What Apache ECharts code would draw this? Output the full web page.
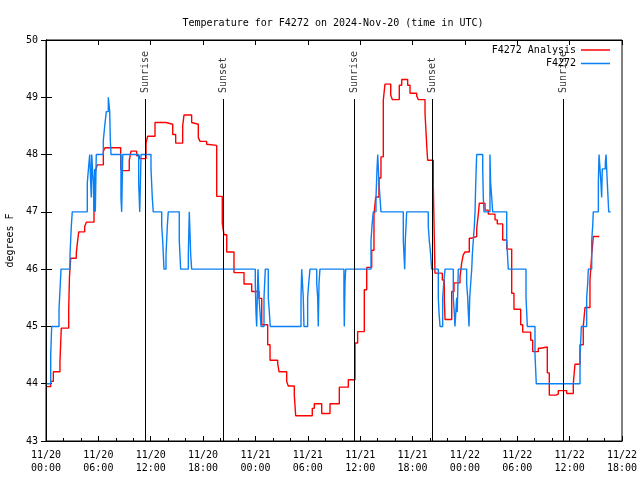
<!DOCTYPE html>
<html><head><meta charset="utf-8">
<script src="https://cdn.jsdelivr.net/npm/echarts@6/dist/echarts.min.js"></script>
<style>html,body{margin:0;padding:0;background:#fff}#c{width:640px;height:480px}</style>
</head><body><div id="c"></div>
<script>
const xTickLabels = ['11/20\n00:00','11/20\n06:00','11/20\n12:00','11/20\n18:00','11/21\n00:00','11/21\n06:00','11/21\n12:00','11/21\n18:00','11/22\n00:00','11/22\n06:00','11/22\n12:00','11/22\n18:00'];
// [hours since 2024-11-20 00:00 UTC, degrees F]
const analysisSeries = [[0.08,43.95],[0.54,44.04],[0.84,44.21],[1.60,44.38],[1.75,44.97],[2.60,45.29],[2.69,45.87],[2.83,46.19],[3.47,46.28],[3.59,46.45],[3.75,46.65],[4.43,46.74],[4.62,46.82],[5.50,47.56],[5.69,47.73],[5.88,47.82],[6.57,48.06],[6.76,48.12],[8.56,47.76],[8.67,47.72],[9.54,47.90],[9.74,48.06],[10.39,47.98],[10.69,47.93],[11.46,48.20],[11.65,48.32],[12.49,48.56],[13.75,48.53],[14.52,48.35],[14.86,48.20],[15.66,48.50],[15.81,48.69],[16.69,48.56],[16.88,48.53],[17.45,48.30],[17.65,48.23],[18.41,48.18],[18.60,48.16],[19.56,47.27],[20.20,46.80],[20.40,46.60],[20.71,46.30],[21.54,45.94],[22.69,45.74],[23.57,45.61],[24.41,45.49],[24.72,45.03],[25.40,44.68],[25.67,44.41],[26.55,44.35],[26.70,44.21],[27.58,44.04],[27.76,43.96],[28.45,43.80],[28.61,43.44],[30.51,43.57],[30.74,43.65],[31.59,43.48],[32.54,43.65],[33.61,43.94],[34.64,44.07],[35.41,44.71],[35.71,44.91],[36.47,45.64],[36.75,46.03],[37.32,46.33],[37.58,46.95],[37.78,47.26],[38.15,47.59],[38.38,47.96],[38.65,48.95],[38.84,49.23],[39.50,49.04],[39.68,48.96],[40.48,49.21],[40.76,49.31],[41.44,49.21],[41.71,49.07],[42.48,49.02],[42.66,48.96],[43.43,48.72],[43.62,48.17],[43.73,47.90],[44.38,47.44],[44.57,45.93],[45.41,45.81],[45.64,45.46],[45.72,45.12],[46.49,45.61],[46.75,45.76],[47.44,45.87],[47.63,46.11],[47.81,46.25],[48.01,46.30],[48.50,46.54],[48.78,46.57],[49.35,46.71],[49.53,46.95],[49.65,47.15],[50.30,47.03],[50.68,46.96],[51.45,46.86],[51.71,46.79],[52.33,46.51],[52.79,46.35],[53.36,45.58],[53.62,45.30],[54.39,45.03],[54.62,44.90],[55.54,44.76],[55.77,44.56],[56.41,44.62],[56.68,44.64],[57.44,44.19],[57.67,43.80],[58.44,43.82],[58.70,43.88],[59.66,43.83],[60.42,44.00],[60.61,44.34],[61.19,44.68],[61.56,45.00],[61.76,45.33],[62.33,45.81],[62.53,46.25],[62.71,46.57],[63.40,46.57]];
const stationSeries = [[0.08,44.0],[0.54,44.5],[0.65,45.0],[1.49,45.3],[1.64,45.75],[1.72,46.0],[2.75,46.25],[2.90,46.75],[3.01,47.0],[4.73,47.5],[4.89,47.8],[5.01,48.0],[5.12,47.5],[5.19,47.25],[5.24,48.0],[5.42,47.5],[5.50,47.0],[5.58,47.75],[5.65,47.0],[5.76,48.0],[6.57,48.25],[6.73,48.5],[6.91,48.75],[7.14,49.0],[7.30,48.75],[7.37,48.25],[7.45,48.0],[8.59,47.25],[8.67,47.0],[8.79,48.0],[10.62,47.5],[10.74,47.0],[10.89,48.0],[12.03,47.75],[12.18,47.25],[12.29,47.0],[13.26,46.75],[13.37,46.5],[13.52,46.0],[13.75,46.25],[13.90,46.75],[14.01,47.0],[15.27,46.5],[15.43,46.0],[16.31,46.25],[16.42,47.0],[16.58,46.25],[16.69,46.0],[23.98,45.75],[24.06,45.25],[24.14,45.0],[24.21,45.5],[24.29,46.0],[24.41,45.5],[24.52,45.25],[24.64,45.0],[24.98,45.5],[25.13,46.0],[25.47,45.5],[25.59,45.25],[25.70,45.0],[29.22,45.5],[29.30,46.0],[29.48,45.5],[29.56,45.0],[29.98,45.5],[30.10,45.75],[30.25,46.0],[31.02,45.75],[31.13,45.5],[31.20,45.0],[31.28,45.75],[31.39,46.0],[34.14,45.5],[34.18,45.0],[34.26,45.75],[34.34,46.0],[37.24,46.5],[37.35,46.75],[37.50,47.0],[37.81,47.25],[37.93,47.75],[38.01,48.0],[38.16,47.5],[38.27,47.25],[38.38,47.0],[40.94,46.5],[41.10,46.0],[41.17,46.5],[41.33,47.0],[43.80,46.75],[43.92,46.5],[44.08,46.25],[44.19,46.0],[44.95,45.5],[45.03,45.25],[45.15,45.0],[45.45,45.5],[45.57,45.75],[45.72,46.0],[46.67,45.5],[46.78,45.25],[46.86,45.0],[47.06,45.5],[47.12,45.25],[47.24,46.0],[48.20,45.75],[48.32,45.5],[48.39,45.25],[48.47,45.0],[48.55,45.5],[48.66,45.75],[48.78,46.0],[48.85,46.25],[48.96,46.5],[49.08,46.75],[49.16,47.0],[49.24,47.5],[49.35,48.0],[50.04,47.75],[50.11,47.25],[50.19,47.0],[50.87,48.0],[50.95,47.5],[51.07,47.25],[51.18,47.0],[52.79,46.5],[52.97,46.0],[55.00,45.5],[55.08,45.25],[55.15,45.0],[56.03,44.5],[56.18,44.0],[61.19,44.5],[61.27,44.75],[61.34,45.0],[61.95,45.5],[62.07,45.75],[62.14,46.0],[62.53,46.5],[62.64,46.75],[62.71,47.0],[63.29,47.5],[63.37,48.0],[63.59,47.5],[63.67,47.25],[63.74,47.75],[63.86,47.75],[64.09,47.85],[64.17,48.0],[64.32,47.5],[64.40,47.25],[64.48,47.0],[64.71,47.0]];
const sunHours = [11.42, 20.32, 35.33, 44.27, 59.28];
const sunLabels = ['Sunrise','Sunset','Sunrise','Sunset','Sunrise'];
const seriesNames = ['F4272 Analysis','F4272'];

const FONT = 'DejaVu Sans Mono';
const LINE_TOP = 48.97;
const chart = echarts.init(document.getElementById('c'), null, {renderer:'canvas'});
const axisCommon = {
  min:0, max:66, interval:6, type:'value',
  axisLine:{show:true, lineStyle:{color:'#000', width:1}},
  splitLine:{show:false}
};
chart.setOption({
  animation:false,
  backgroundColor:'#fff',
  title:{text:'Temperature for F4272 on 2024-Nov-20 (time in UTC)', left:328, top:13, textAlign:'center',
    textStyle:{fontFamily:FONT, fontSize:10, fontWeight:'normal', color:'#000'}},
  legend:{data:seriesNames, orient:'vertical', right:25, top:39, align:'right', icon:'rect',
    itemWidth:29, itemHeight:1.5, itemGap:1.5,
    textStyle:{fontFamily:FONT, fontSize:10, color:'#000', lineHeight:12}},
  grid:{left:46, right:18, top:40, bottom:39, show:true, borderColor:'#000', borderWidth:1,
    containLabel:false, outerBoundsMode:'none'},
  xAxis:[
    Object.assign({}, axisCommon, {position:'bottom',
      axisTick:{show:true, inside:true, length:5, lineStyle:{color:'#000'}},
      minorTick:{show:true, splitNumber:3, length:3, lineStyle:{color:'#000'}},
      axisLabel:{show:true, margin:8, color:'#000', fontFamily:FONT, fontSize:10, lineHeight:13,
        showMinLabel:true, showMaxLabel:true,
        formatter:v=>xTickLabels[Math.round(v/6)]}}),
    Object.assign({}, axisCommon, {position:'top',
      axisTick:{show:true, inside:true, length:5, lineStyle:{color:'#000'}},
      axisLabel:{show:false}})
  ],
  yAxis:[
    {type:'value', min:43, max:50, interval:1, position:'left',
      name:'degrees F', nameLocation:'middle', nameGap:28, nameRotate:90,
      nameTextStyle:{fontFamily:FONT, fontSize:10, color:'#000'},
      axisLine:{show:true, lineStyle:{color:'#000'}},
      axisTick:{show:true, inside:true, length:6, lineStyle:{color:'#000'}},
      axisLabel:{margin:8, color:'#000', fontFamily:FONT, fontSize:10},
      splitLine:{show:false}},
    {type:'value', min:43, max:50, interval:1, position:'right',
      axisLine:{show:true, lineStyle:{color:'#000'}},
      axisTick:{show:true, inside:true, length:5, lineStyle:{color:'#000'}},
      axisLabel:{show:false}, splitLine:{show:false}}
  ],
  series:[
    {name:'sun', type:'scatter', symbolSize:0, silent:true,
      data:sunHours.map((t,i)=>({value:[t, LINE_TOP], name:sunLabels[i]})),
      label:{show:true, position:'top', distance:6, rotate:90, align:'left', verticalAlign:'middle',
        formatter:p=>p.name, fontFamily:FONT, fontSize:10, color:'#000'},
      markLine:{silent:true, symbol:'none', animation:false, label:{show:false},
        lineStyle:{color:'#000', width:1, type:'solid'},
        data:sunHours.map(t=>[{coord:[t,43]},{coord:[t,LINE_TOP]}])}},
    {name:seriesNames[0], type:'line', step:'end', showSymbol:false, color:'#ff0000',
      lineStyle:{width:1.4, color:'#ff0000'}, data:analysisSeries},
    {name:seriesNames[1], type:'line', step:'end', showSymbol:false, color:'#0a80f5',
      lineStyle:{width:1.4, color:'#0a80f5'}, data:stationSeries}
  ]
});
</script></body></html>
